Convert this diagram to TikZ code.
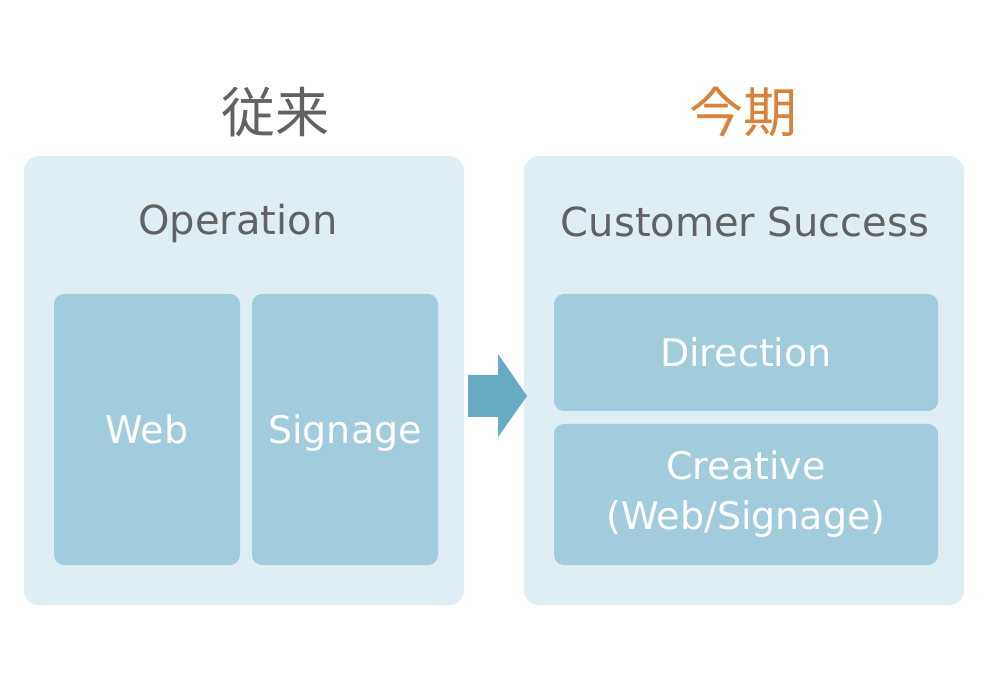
\documentclass[tikz,border=0pt]{standalone}
\usepackage{fontspec}
\setmainfont{DejaVu Sans}
\newfontfamily\cjkfont{Noto Sans CJK JP}
\usetikzlibrary{positioning}
\definecolor{bgblue}{HTML}{DFEEF4}
\definecolor{boxblue}{HTML}{A1CCDC}
\definecolor{arrowblue}{HTML}{67ACC4}
\definecolor{textgray}{HTML}{626262}
\definecolor{titleorange}{HTML}{D9823B}
\begin{document}
\begin{tikzpicture}[x=1pt,y=-1pt,
	outerbox/.style={fill=bgblue, rounded corners=15pt, minimum width=440pt, minimum height=449pt, inner sep=0pt},
	innerbox/.style={fill=boxblue, rounded corners=10pt, inner sep=0pt, text=white, align=center, font=\fontsize{38}{50}\selectfont},
	oneline/.style={text height=32pt, text depth=4pt},
	heading/.style={text=textgray, font=\fontsize{40}{44}\selectfont},
	title/.style={font=\cjkfont\fontsize{54}{60}\selectfont}]
	\useasboundingbox (0,0) rectangle (1002,684);

	% outer panels
	\node[outerbox] (before) at (244,380.5) {};
	\node[outerbox] (after) at (744,380.5) {};

	% titles
	\node[title, text=textgray] (beforetitle) at (275,112) {従来};
	\node[title, text=titleorange] (aftertitle) at (743,112) {今期};

	% headings
	\node[heading] (operation) at (238,223) {Operation};
	\node[heading] (success) at (745,222) {Customer Success};

	% inner boxes
	\node[innerbox, oneline, minimum width=186pt, minimum height=271pt] (web) at (147,429.5) {Web};
	\node[innerbox, oneline, minimum width=186pt, minimum height=271pt] (signage) at (345,429.5) {Signage};
	\node[innerbox, oneline, minimum width=384pt, minimum height=117pt] (direction) at (746,352.5) {Direction};
	\node[innerbox, minimum width=384pt, minimum height=141pt] (creative) at (746,494.5) {Creative\\(Web/Signage)};

	% arrow
	\fill[arrowblue] (468,375) -- (498,375) -- (498,354) -- (527,396) -- (498,437) -- (498,417) -- (468,417) -- cycle;
\end{tikzpicture}
\end{document}
